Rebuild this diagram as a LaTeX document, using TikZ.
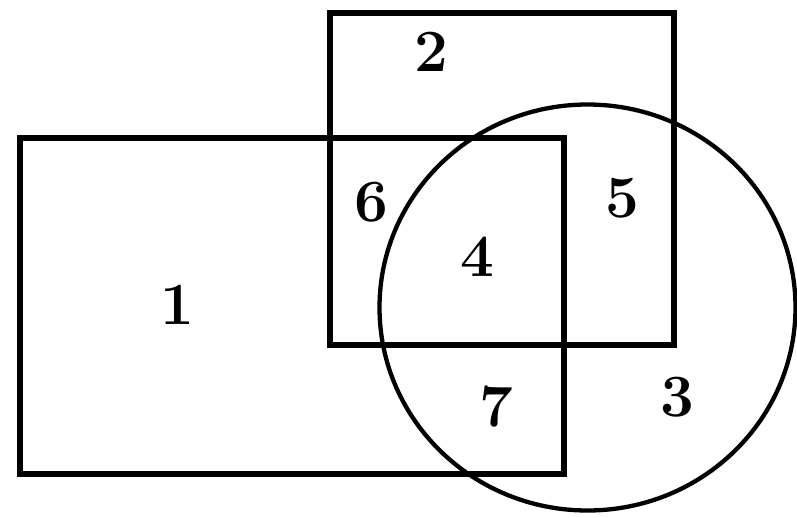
\documentclass[tikz,border=0pt]{standalone}
\begin{document}
\begin{tikzpicture}[x=1pt,y=-1pt,
  box/.style={draw=black,line width=5.5pt,line join=miter},
  ring/.style={draw=black,line width=4.3pt},
  lbl/.style={font=\fontsize{60}{60}\selectfont\bfseries,inner sep=0pt}]
\useasboundingbox (0,0) rectangle (797,517);
\clip (0,0) rectangle (797,517);
\draw[box] (20,138) rectangle (564,474);
\draw[box] (330,13) rectangle (674,345);
\draw[ring] (587.5,307.5) ellipse[x radius=208, y radius=203];
\node[lbl] (n1) at (177,305) {1};
\node[lbl] (n2) at (431,52) {2};
\node[lbl] (n3) at (677,397) {3};
\node[lbl] (n4) at (477,257) {4};
\node[lbl] (n5) at (622,198) {5};
\node[lbl] (n6) at (371,202) {6};
\node[lbl] (n7) at (496,407) {7};
\end{tikzpicture}
\end{document}
